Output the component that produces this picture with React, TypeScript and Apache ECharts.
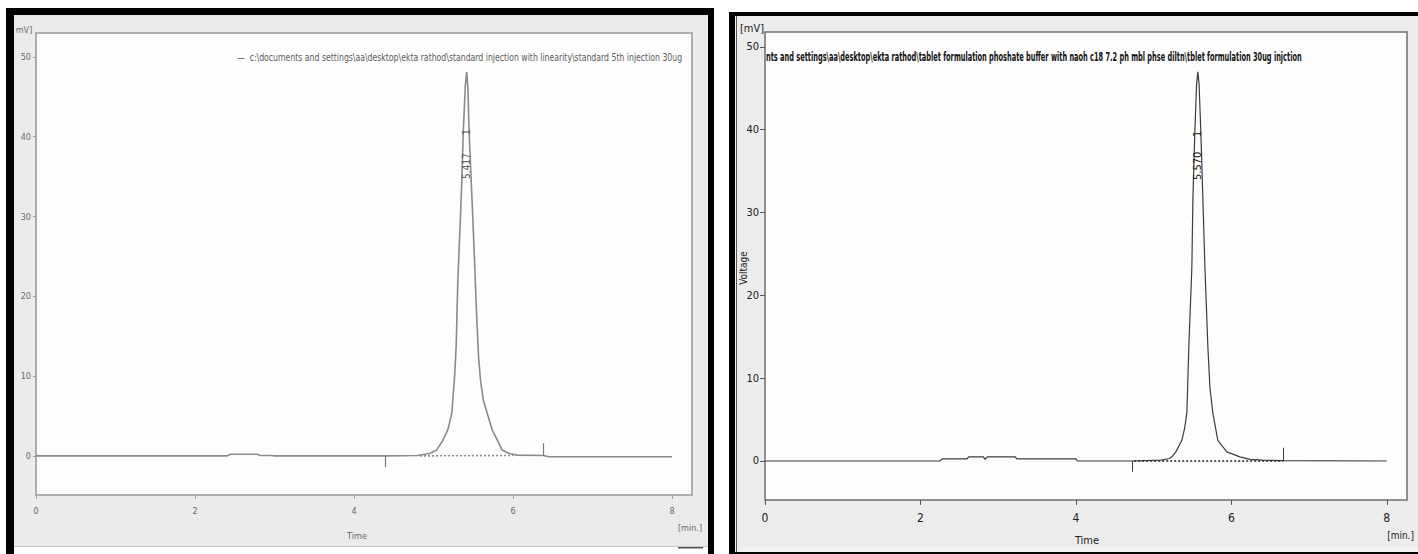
import React, { useEffect, useRef } from "react";
import * as echarts from "echarts";

// ---- Standard injection (left panel) ----
const stdTime = [0, 2.4, 2.45, 2.78, 2.82, 2.96, 3.0, 4.39, 4.8, 4.95, 5.04, 5.12, 5.18, 5.23, 5.265, 5.285, 5.305, 5.33, 5.35, 5.375, 5.4, 5.417, 5.432, 5.447, 5.484, 5.515, 5.54, 5.565, 5.59, 5.625, 5.673, 5.736, 5.8, 5.86, 5.95, 6.05, 6.38, 6.45, 8.0];
const stdSignal = [0, 0, 0.2, 0.2, 0.05, 0.05, 0, 0, 0.05, 0.3, 0.75, 2.0, 3.3, 5.4, 10, 14, 22, 28, 33, 41, 46.5, 48.1, 46, 40.5, 32, 24.5, 18, 12.5, 9.5, 7, 5.4, 3.3, 2.0, 0.75, 0.3, 0.1, 0.05, -0.1, -0.1];
const stdMarkTime = [4.39, 6.38];
const stdMarkLen = [-1.4, 1.6];
const stdBaseTime = [4.83, 6.0];
const stdBaseValue = [0, 0.05];
const stdPeakTime = 5.417;
const stdPeakHeight = 48.1;
const stdPeakLabel = "5.417";

// ---- Tablet formulation (right panel) ----
const sampleTime = [0, 2.25, 2.28, 2.6, 2.62, 2.81, 2.83, 2.86, 3.22, 3.24, 4.0, 4.02, 4.72, 5.1, 5.2, 5.235, 5.286, 5.363, 5.4, 5.428, 5.453, 5.492, 5.505, 5.53, 5.553, 5.569, 5.585, 5.608, 5.634, 5.66, 5.698, 5.725, 5.762, 5.826, 5.942, 6.11, 6.24, 6.4, 6.67, 8.0];
const sampleSignal = [0, 0, 0.25, 0.25, 0.5, 0.5, 0.2, 0.5, 0.5, 0.25, 0.25, 0, 0, 0.1, 0.3, 0.5, 1.1, 2.5, 4.0, 5.8, 13.8, 23.4, 31.5, 39.6, 45.5, 47.0, 45.5, 39.6, 31.5, 23.4, 13.8, 8.8, 5.8, 2.5, 1.1, 0.5, 0.2, 0.1, 0.05, 0];
const sampleMarkTime = [4.72, 6.67];
const sampleMarkLen = [-1.3, 1.6];
const sampleBaseTime = [4.75, 6.67];
const sampleBaseValue = [0, 0];
const samplePeakTime = 5.57;
const samplePeakHeight = 47.0;
const samplePeakLabel = "5.570";

const yTicks = [0, 10, 20, 30, 40, 50];
const xTicks = [0, 2, 4, 6, 8];

const stdLegend =
  "\u2014  c:\\documents and settings\\aa\\desktop\\ekta rathod\\standard injection with linearity\\standard 5th injection 30ug";
const sampleTitle =
  "nts and settings\\aa\\desktop\\ekta rathod\\tablet formulation phoshate buffer with naoh c18 7.2 ph mbl phse diltn\\tblet formulation 30ug injction";

const NARROW = '"Liberation Sans Narrow", "Arial Narrow", "DejaVu Sans Condensed", "Liberation Sans", sans-serif';

function zip(a: number[], b: number[]) {
  return a.map((v, i) => [v, b[i]]);
}

function measure(text: string, size: number, weight = "normal") {
  const c = document.createElement("canvas").getContext("2d")!;
  c.font = `${weight} ${size}px ${NARROW}`;
  return c.measureText(text).width;
}

function markSegs(t: number[], h: number[]) {
  return t.map((v, i) => [{ coord: [v, 0] }, { coord: [v, h[i]] }]);
}

export default function App() {
  const ref = useRef<HTMLDivElement>(null);
  useEffect(() => {
    const chart = echarts.init(ref.current!, null, { renderer: "svg" });
    const axisCommonX = (gi: number, max: number, color: string, tcolor: string, fs: number, margin: number, tl: number) => ({
      type: "value",
      gridIndex: gi,
      min: 0,
      max,
      axisLine: { show: false, onZero: false },
      splitLine: { show: false },
      axisTick: { show: true, length: tl, customValues: xTicks, lineStyle: { color, width: 1 } },
      axisLabel: { customValues: xTicks, margin, fontSize: fs, color: tcolor, fontFamily: NARROW },
    });
    const axisCommonY = (gi: number, min: number, max: number, color: string, tcolor: string, fs: number, margin: number, tl: number) => ({
      type: "value",
      gridIndex: gi,
      min,
      max,
      axisLine: { show: false, onZero: false },
      splitLine: { show: false },
      axisTick: { show: true, length: tl, customValues: yTicks, lineStyle: { color, width: 1 } },
      axisLabel: { customValues: yTicks, margin, fontSize: fs, color: tcolor, fontFamily: NARROW },
    });
    chart.setOption({
      animation: false,
      backgroundColor: "#ffffff",
      grid: [
        { left: 36, top: 33, width: 656, height: 462, show: true, backgroundColor: "#fdfdfd", borderColor: "#adadad", borderWidth: 2 },
        { left: 765, top: 32, width: 642, height: 468, show: true, backgroundColor: "#fdfdfd", borderColor: "#6e6e6e", borderWidth: 1.5 },
      ],
      xAxis: [
        axisCommonX(0, 8.25, "#9a9a9a", "#6a6a6a", 9, 11, 4),
        axisCommonX(1, 8.26, "#555555", "#222222", 12, 12, 5),
      ],
      yAxis: [
        axisCommonY(0, -4.9, 53, "#9a9a9a", "#6a6a6a", 9, 5, 3),
        axisCommonY(1, -4.71, 51.8, "#555555", "#222222", 11, 6, 5),
      ],
      series: [
        {
          type: "line",
          xAxisIndex: 0,
          yAxisIndex: 0,
          data: zip(stdTime, stdSignal),
          showSymbol: false,
          lineStyle: { color: "#8a8a8a", width: 1.6 },
          silent: true,
          markLine: {
            symbol: "none",
            silent: true,
            label: { show: false },
            lineStyle: { color: "#7a7a7a", width: 1.2, type: "solid" },
            data: markSegs(stdMarkTime, stdMarkLen),
          },
        },
        {
          type: "line",
          xAxisIndex: 0,
          yAxisIndex: 0,
          data: zip(stdBaseTime, stdBaseValue),
          showSymbol: false,
          lineStyle: { color: "#8a8a8a", width: 1.6, type: [2, 2] },
          silent: true,
        },
        {
          type: "line",
          xAxisIndex: 1,
          yAxisIndex: 1,
          data: zip(sampleTime, sampleSignal),
          showSymbol: false,
          lineStyle: { color: "#3c3c3c", width: 1.2 },
          silent: true,
          markLine: {
            symbol: "none",
            silent: true,
            label: { show: false },
            lineStyle: { color: "#3c3c3c", width: 1, type: "solid" },
            data: markSegs(sampleMarkTime, sampleMarkLen),
          },
        },
        {
          type: "line",
          xAxisIndex: 1,
          yAxisIndex: 1,
          data: zip(sampleBaseTime, sampleBaseValue),
          showSymbol: false,
          lineStyle: { color: "#222222", width: 1.4, type: [2, 2] },
          silent: true,
        },
      ],
    });

    const pL = chart.convertToPixel({ gridIndex: 0 } as any, [stdPeakTime, stdPeakHeight]) as number[];
    const pR = chart.convertToPixel({ gridIndex: 1 } as any, [samplePeakTime, samplePeakHeight]) as number[];

    const legW = measure(stdLegend, 10);
    const titW = measure(sampleTitle, 13, "bold");

    const txt = (text: string, x: number, y: number, size: number, color: string, extra: any = {}) => ({
      type: "text",
      x,
      y,
      z: 10,
      silent: true,
      rotation: extra.rotation || 0,
      scaleX: extra.scaleX || 1,
      style: {
        text,
        fill: color,
        font: `${extra.weight || "normal"} ${size}px ${NARROW}`,
        align: extra.align || "center",
        verticalAlign: "middle",
      },
    });

    chart.setOption({
      graphic: [
        // left panel frame
        { type: "rect", z: -10, silent: true, shape: { x: 6, y: 8, width: 708, height: 546 }, style: { fill: "#000" } },
        { type: "rect", z: -9, silent: true, shape: { x: 14, y: 15, width: 694, height: 532 }, style: { fill: "#ebebeb" } },
        { type: "rect", z: -9, silent: true, shape: { x: 14, y: 547, width: 694, height: 7 }, style: { fill: "#ffffff" } },
        { type: "rect", z: -8, silent: true, shape: { x: 14, y: 546, width: 694, height: 1 }, style: { fill: "#c8c8c8" } },
        { type: "rect", z: -8, silent: true, shape: { x: 678, y: 547, width: 25, height: 1.5 }, style: { fill: "#555" } },
        // right panel frame
        { type: "rect", z: -10, silent: true, shape: { x: 729, y: 12, width: 689, height: 542 }, style: { fill: "#000" } },
        { type: "rect", z: -9, silent: true, shape: { x: 735, y: 16, width: 683, height: 536 }, style: { fill: "#f2f2f2" } },
        { type: "rect", z: -8, silent: true, shape: { x: 736, y: 16, width: 1, height: 536 }, style: { fill: "#555" } },
        { type: "rect", z: -8, silent: true, shape: { x: 737, y: 16, width: 681, height: 531 }, style: { fill: "#ececec" } },
        // left texts
        txt(stdLegend, 237, 57, 10, "#5a5a5a", { align: "left", scaleX: 446 / legW }),
        txt("mV]", 24, 30, 9, "#6a6a6a"),
        txt("Time", 357, 536, 9, "#6a6a6a"),
        txt("[min.]", 690, 528, 9, "#6a6a6a"),
        txt("1", pL[0], pL[1] + 60, 10, "#555", { rotation: Math.PI / 2 }),
        txt(stdPeakLabel, pL[0], pL[1] + 94, 10, "#555", { rotation: Math.PI / 2 }),
        // right texts
        txt(sampleTitle, 766, 56, 13, "#111", { align: "left", weight: "bold", scaleX: 536 / titW }),
        txt("[mV]", 752, 28, 11, "#222"),
        txt("Voltage", 743, 268, 10, "#222", { rotation: Math.PI / 2 }),
        txt("Time", 1087, 540, 11, "#222"),
        txt("[min.]", 1414, 535, 10, "#222", { align: "right" }),
        txt("1", pR[0], pR[1] + 62, 11, "#222", { rotation: Math.PI / 2 }),
        txt(samplePeakLabel, pR[0], pR[1] + 94, 11, "#222", { rotation: Math.PI / 2 }),
      ],
    });

    return () => chart.dispose();
  }, []);
  return <div ref={ref} style={{ position: "absolute", left: 0, top: 0, width: 1418, height: 554 }} />;
}
